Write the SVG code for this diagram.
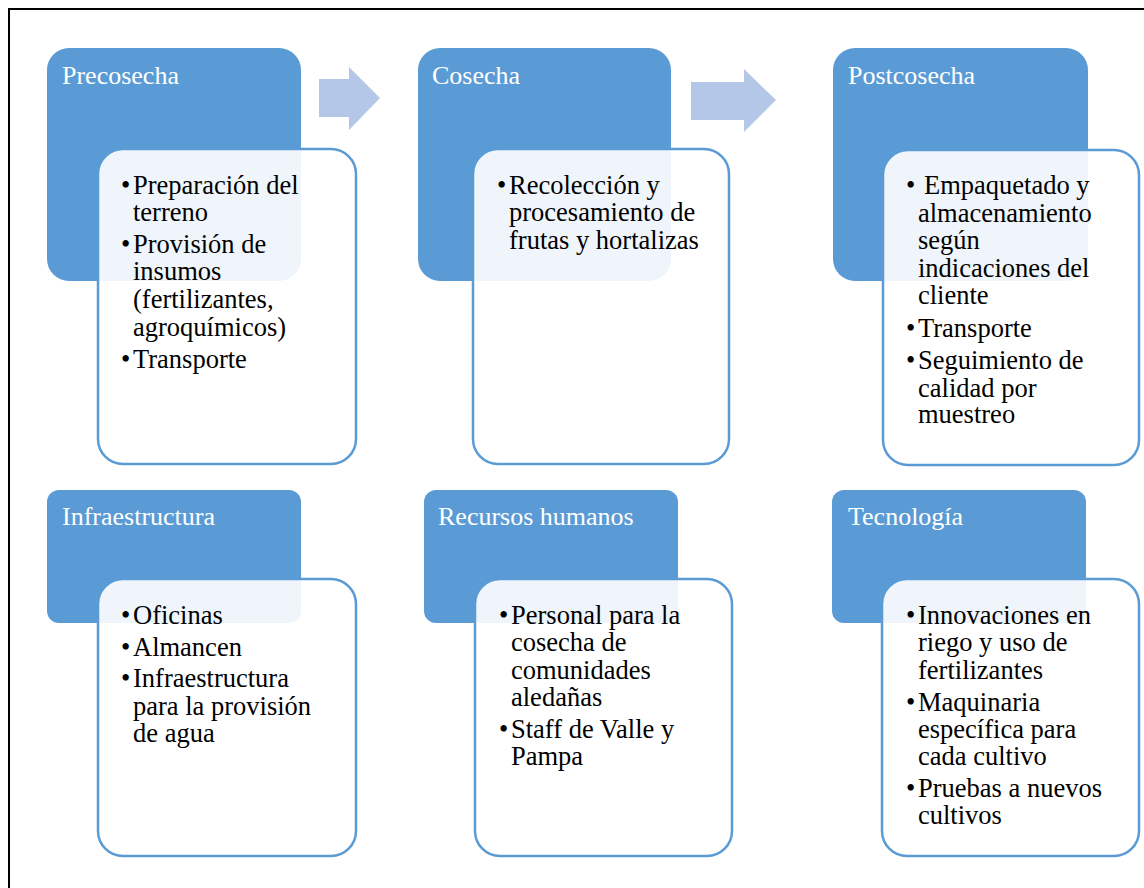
<svg xmlns="http://www.w3.org/2000/svg" width="1144" height="888" viewBox="0 0 1144 888">
<style>
.hdr{fill:#5B9BD5}
.card{fill:#ffffff;fill-opacity:0.9;stroke:#5B9BD5;stroke-width:2.5}
.arrow{fill:#B4C7E7}
.title{font-family:"Liberation Serif",serif;font-size:26px;fill:#ffffff}
.body{font-family:"Liberation Serif",serif;font-size:26.5px;fill:#000000}
</style>
<rect width="1144" height="888" fill="#ffffff"/>
<path d="M9 888 V9 H1144" fill="none" stroke="#000000" stroke-width="2"/>
<g id="connectors">
<polygon class="arrow" points="319,79 349,79 349,67 380,98 349,130 349,117 319,117"/>
<polygon class="arrow" points="691,82 744,82 744,69 776,100 744,132 744,120 691,120"/>
</g>
<g id="precosecha">
<rect class="hdr" x="47" y="48" width="254" height="233" rx="22"/>
<text class="title" x="62" y="84">Precosecha</text>
<rect class="card" x="98" y="149" width="258" height="315" rx="25"/>
<text class="body"><tspan x="121" y="194">•</tspan><tspan x="133" y="194">Preparación del</tspan><tspan x="133" y="221">terreno</tspan><tspan x="121" y="253">•</tspan><tspan x="133" y="253">Provisión de</tspan><tspan x="133" y="280">insumos</tspan><tspan x="133" y="308">(fertilizantes,</tspan><tspan x="133" y="336">agroquímicos)</tspan><tspan x="121" y="368">•</tspan><tspan x="133" y="368">Transporte</tspan></text>
</g>
<g id="cosecha">
<rect class="hdr" x="418" y="48" width="253" height="233" rx="22"/>
<text class="title" x="432" y="84">Cosecha</text>
<rect class="card" x="473" y="149" width="256" height="315" rx="25"/>
<text class="body"><tspan x="497" y="194">•</tspan><tspan x="509" y="194">Recolección y</tspan><tspan x="509" y="221">procesamiento de</tspan><tspan x="509" y="249">frutas y hortalizas</tspan></text>
</g>
<g id="postcosecha">
<rect class="hdr" x="833" y="48" width="255" height="233" rx="22"/>
<text class="title" x="848" y="84">Postcosecha</text>
<rect class="card" x="883" y="150" width="256" height="315" rx="25"/>
<text class="body"><tspan x="906" y="194">•</tspan><tspan x="924" y="194">Empaquetado y</tspan><tspan x="918" y="222">almacenamiento</tspan><tspan x="918" y="249">según</tspan><tspan x="918" y="277">indicaciones del</tspan><tspan x="918" y="304">cliente</tspan><tspan x="906" y="337">•</tspan><tspan x="918" y="337">Transporte</tspan><tspan x="906" y="369">•</tspan><tspan x="918" y="369">Seguimiento de</tspan><tspan x="918" y="397">calidad por</tspan><tspan x="918" y="423">muestreo</tspan></text>
</g>
<g id="infraestructura">
<rect class="hdr" x="47" y="490" width="254" height="133" rx="12"/>
<text class="title" x="62" y="525">Infraestructura</text>
<rect class="card" x="98" y="579" width="258" height="277" rx="25"/>
<text class="body"><tspan x="121" y="624">•</tspan><tspan x="133" y="624">Oficinas</tspan><tspan x="121" y="656">•</tspan><tspan x="133" y="656">Almancen</tspan><tspan x="121" y="687">•</tspan><tspan x="133" y="687">Infraestructura</tspan><tspan x="133" y="715">para la provisión</tspan><tspan x="133" y="742">de agua</tspan></text>
</g>
<g id="recursos-humanos">
<rect class="hdr" x="424" y="490" width="254" height="133" rx="12"/>
<text class="title" x="438" y="525">Recursos humanos</text>
<rect class="card" x="475" y="579" width="257" height="277" rx="25"/>
<text class="body"><tspan x="499" y="624">•</tspan><tspan x="511" y="624">Personal para la</tspan><tspan x="511" y="651">cosecha de</tspan><tspan x="511" y="679">comunidades</tspan><tspan x="511" y="706">aledañas</tspan><tspan x="499" y="738">•</tspan><tspan x="511" y="738">Staff de Valle y</tspan><tspan x="511" y="765">Pampa</tspan></text>
</g>
<g id="tecnologia">
<rect class="hdr" x="832" y="490" width="254" height="133" rx="12"/>
<text class="title" x="848" y="525">Tecnología</text>
<rect class="card" x="882" y="579" width="257" height="277" rx="25"/>
<text class="body"><tspan x="906" y="624">•</tspan><tspan x="918" y="624">Innovaciones en</tspan><tspan x="918" y="651">riego y uso de</tspan><tspan x="918" y="679">fertilizantes</tspan><tspan x="906" y="711">•</tspan><tspan x="918" y="711">Maquinaria</tspan><tspan x="918" y="738">específica para</tspan><tspan x="918" y="765">cada cultivo</tspan><tspan x="906" y="797">•</tspan><tspan x="918" y="797">Pruebas a nuevos</tspan><tspan x="918" y="824">cultivos</tspan></text>
</g>
</svg>
